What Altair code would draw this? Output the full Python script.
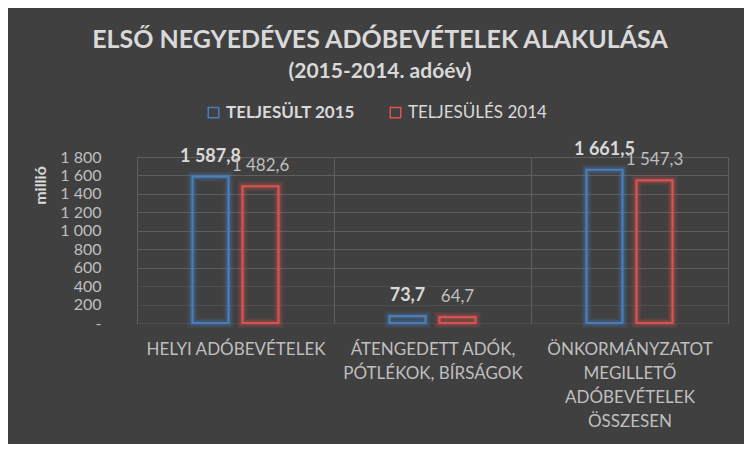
import altair as alt
import pandas as pd

categories = [
    "HELYI ADÓBEVÉTELEK",
    "ÁTENGEDETT ADÓK,|PÓTLÉKOK, BÍRSÁGOK",
    "ÖNKORMÁNYZATOT|MEGILLETŐ|ADÓBEVÉTELEK|ÖSSZESEN",
]
series = ["TELJESÜLT 2015", "TELJESÜLÉS 2014"]
values_2015 = [1587.8, 73.7, 1661.5]
values_2014 = [1482.6, 64.7, 1547.3]
y_ticks = [0, 200, 400, 600, 800, 1000, 1200, 1400, 1600, 1800]
colors = ["#4a7ebb", "#d9534f"]

rows = []
for c, a, b in zip(categories, values_2015, values_2014):
    rows.append({"cat": c, "series": series[0], "value": a})
    rows.append({"cat": c, "series": series[1], "value": b})
df = pd.DataFrame(rows)

BG = "#404040"
GRID = "#5e5e5e"
FONT = "Lato"
TXT = "#d9d9d9"
TXT2 = "#bfbfbf"

x_main = alt.X(
    "cat:N",
    sort=categories,
    scale=alt.Scale(paddingInner=0, paddingOuter=0),
    axis=alt.Axis(
        title=None, labelAngle=0, labelExpr="split(datum.label, '|')",
        labelFontSize=17, labelColor=TXT2, labelFont=FONT, labelLineHeight=24,
        labelPadding=18, labelBaseline="top", ticks=False, domain=False,
        grid=True, tickBand="extent", gridColor=GRID, labelLimit=0,
    ),
)
xo = alt.XOffset("series:N", sort=series,
                 scale=alt.Scale(range=[55.5, 141.5], paddingInner=0.28, paddingOuter=0))
y_main = alt.Y(
    "value:Q",
    scale=alt.Scale(domain=[0, 1800], nice=False),
    axis=alt.Axis(
        values=y_ticks, title="millió", titleX=-97, titleY=28, titleAngle=270,
        titleAlign="center", titleBaseline="middle", titleFont=FONT,
        titleFontSize=16, titleFontWeight="bold", titleColor=TXT,
        labelFont=FONT, labelFontSize=16, labelColor=TXT2, labelPadding=36,
        labelExpr="datum.value == 0 ? '-' : replace(datum.label, ',', ' ')",
        ticks=False, domain=True, domainColor=GRID, grid=True,
        gridColor=GRID,
        gridOpacity={"condition": {"test": "datum.value <= 400", "value": 0.45}, "value": 1},
    ),
)

color_scale = alt.Scale(domain=series, range=colors)
legend = alt.Legend(
    title=None, orient="none", legendX=68, legendY=-53,
    direction="horizontal", symbolType="square", symbolSize=110,
    symbolStrokeWidth=1.5, symbolFillColor="transparent",
    labelFont=FONT, labelFontSize=17, labelColor=TXT,
    labelFontWeight=alt.ExprRef(expr="datum.label == 'TELJESÜLT 2015' ? 'bold' : 'normal'"),
    columnPadding=32, padding=0, labelOffset=4, labelLimit=0,
)
stroke = alt.Stroke("series:N", scale=color_scale, sort=series, legend=legend)
nofill = alt.value("transparent")

base = alt.Chart(df).transform_calculate(
    lbl="replace(replace(format(datum.value, ',.1f'), ',', ' '), '.', ',')"
)

glow0 = base.mark_bar(strokeWidth=10, strokeOpacity=0.12).encode(
    x=x_main, xOffset=xo, y=y_main, stroke=stroke, fill=nofill,
)
glow = base.mark_bar(strokeWidth=6, strokeOpacity=0.25).encode(
    x=x_main, xOffset=xo, y=y_main, stroke=stroke, fill=nofill,
)
bars = base.mark_bar(strokeWidth=2.2).encode(
    x=x_main, xOffset=xo, y=y_main, stroke=stroke, fill=nofill,
)
lab15 = base.transform_filter(alt.datum.series == series[0]).mark_text(
    font=FONT, fontSize=18, fontWeight="bold", color=TXT, dy=-20, baseline="middle"
).encode(x=x_main, xOffset=xo, y=y_main, text="lbl:N")
lab14 = base.transform_filter(alt.datum.series == series[1]).mark_text(
    font=FONT, fontSize=17, color=TXT2, dy=-20, baseline="middle"
).encode(x=x_main, xOffset=xo, y=y_main, text="lbl:N")

main = alt.layer(glow0, glow, bars, lab15, lab14)

edge = base.mark_bar(opacity=0).encode(
    x=x_main, xOffset=xo,
    y=alt.Y("value:Q", scale=alt.Scale(domain=[0, 1800], nice=False),
            axis=alt.Axis(orient="right", labels=False, ticks=False, grid=False,
                          title=None, domain=True, domainColor=GRID)),
)

chart = alt.layer(main, edge).resolve_axis(
    y="independent"
).properties(
    width=591, height=166,
    title=alt.TitleParams(
        text="ELSŐ NEGYEDÉVES ADÓBEVÉTELEK ALAKULÁSA",
        subtitle="(2015-2014. adóév)",
        font=FONT, fontSize=25, fontWeight="bold", color=TXT,
        subtitleFont=FONT, subtitleFontSize=21, subtitleFontWeight="bold",
        subtitleColor=TXT, anchor="middle", frame="bounds", offset=22,
        subtitlePadding=8,
    ),
    background=BG,
    padding={"left": 129, "top": 149, "right": 16, "bottom": 121},
    autosize=alt.AutoSizeParams(type="none"),
).configure_view(stroke=None)

chart.save("out.html", embed_options={"renderer": "svg", "actions": False})
